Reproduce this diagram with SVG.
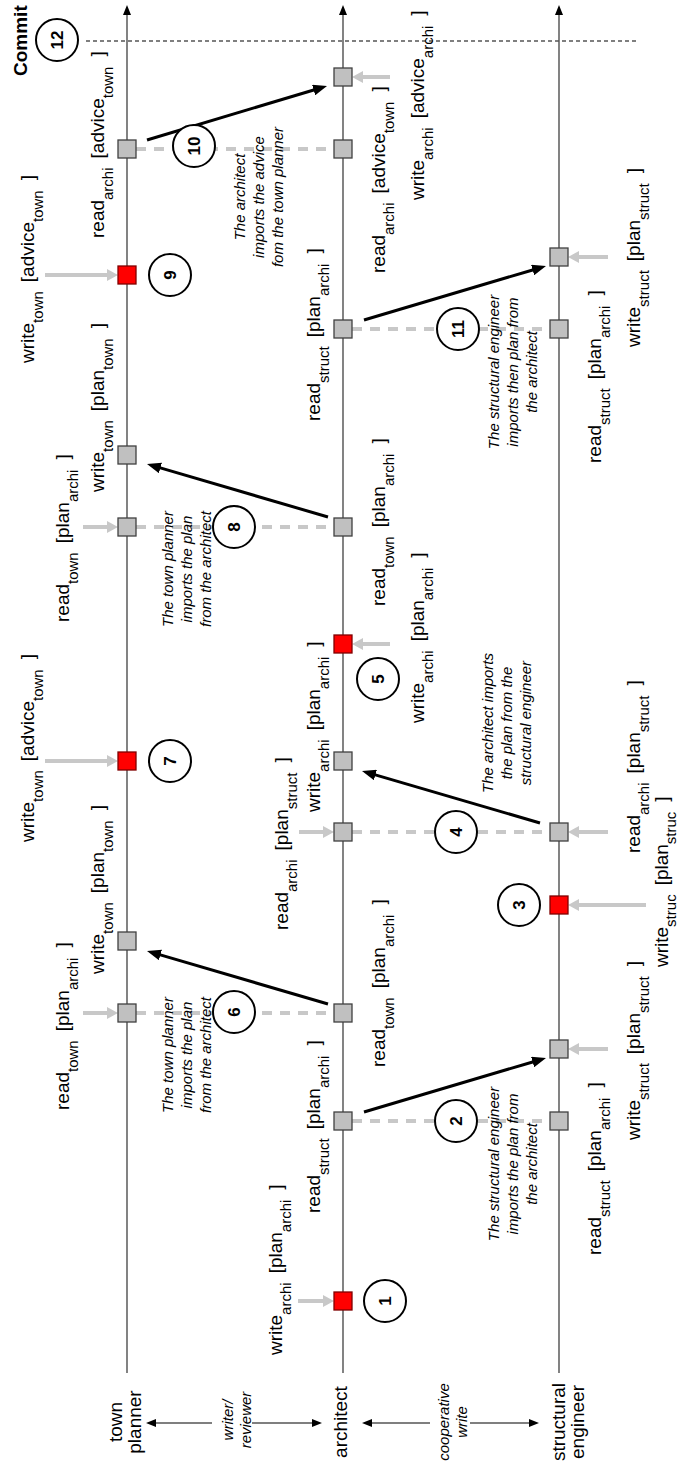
<svg xmlns="http://www.w3.org/2000/svg" width="681" height="1464" viewBox="0 0 681 1464">
<style>
.lane{stroke:#404040;stroke-width:1.3;fill:none}
.sq{fill:#c0c0c0;stroke:#404040;stroke-width:1.3}
.sqr{fill:#ff0000;stroke:#800000;stroke-width:1.3}
.in{stroke:#c8c8c8;stroke-width:4;fill:none}
.dash{stroke:#c8c8c8;stroke-width:4;stroke-dasharray:10 8;fill:none}
.imp{stroke:#000;stroke-width:3;fill:none}
.role{stroke:#000;stroke-width:1.2;fill:none}
.commit{stroke:#555;stroke-width:1.3;stroke-dasharray:4 3;fill:none}
.num circle{fill:#fff;stroke:#000;stroke-width:2}
text{font-family:"Liberation Sans",Arial,sans-serif;fill:#000}
.lb{font-size:19px}
.sb{font-size:15px}
.note{font-style:italic;font-size:15px;text-anchor:middle}
.lane-lb{font-size:19px;text-anchor:middle}
.n{font-weight:bold;font-size:17px;text-anchor:middle}
.cm{font-weight:bold;font-size:19px}
</style>
<defs>
<marker id="ah" markerUnits="userSpaceOnUse" markerWidth="14" markerHeight="11" refX="1" refY="5.5" orient="auto"><path d="M0,0 L14,5.5 L0,11 z" fill="#000"/></marker>
<marker id="ag" markerUnits="userSpaceOnUse" markerWidth="11" markerHeight="12" refX="1" refY="6" orient="auto"><path d="M0,0 L11,6 L0,12 z" fill="#c8c8c8"/></marker>
<marker id="as" markerUnits="userSpaceOnUse" markerWidth="10" markerHeight="8" refX="1" refY="4" orient="auto"><path d="M0,0 L10,4 L0,8 z" fill="#000"/></marker>
</defs>
<g transform="translate(0,1464) rotate(-90)">
  <g id="lanes">
    <g id="lane-town"><line class="lane" x1="91" y1="127" x2="1450" y2="127" marker-end="url(#as)"/>
      <text class="lane-lb" x="42" y="122">town</text><text class="lane-lb" x="42" y="141">planner</text></g>
    <g id="lane-architect"><line class="lane" x1="91" y1="343" x2="1450" y2="343" marker-end="url(#as)"/>
      <text class="lane-lb" x="42" y="347">architect</text></g>
    <g id="lane-struct"><line class="lane" x1="91" y1="559" x2="1450" y2="559" marker-end="url(#as)"/>
      <text class="lane-lb" x="42" y="565">structural</text><text class="lane-lb" x="42" y="584">engineer</text></g>
  </g>
  <g id="roles">
    <line class="role" x1="41" y1="212" x2="41" y2="155" marker-end="url(#as)"/>
    <line class="role" x1="41" y1="252" x2="41" y2="313" marker-end="url(#as)"/>
    <text class="note" x="44" y="233">writer/</text><text class="note" x="44" y="251">reviewer</text>
    <line class="role" x1="41" y1="430" x2="41" y2="371" marker-end="url(#as)"/>
    <line class="role" x1="41" y1="470" x2="41" y2="530" marker-end="url(#as)"/>
    <text class="note" x="42" y="449">cooperative</text><text class="note" x="42" y="467">write</text>
  </g>
  <g id="commit">
    <line class="commit" x1="1423" y1="86" x2="1423" y2="636"/>
    <text class="cm" x="1388" y="27">Commit</text>
  </g>
  <g id="connectors">
    <line class="dash" x1="1315" y1="136" x2="1315" y2="334"/>
    <line class="dash" x1="937" y1="136" x2="937" y2="334"/>
    <line class="dash" x1="451" y1="136" x2="451" y2="334"/>
    <line class="dash" x1="1135" y1="352" x2="1135" y2="550"/>
    <line class="dash" x1="632" y1="352" x2="632" y2="550"/>
    <line class="dash" x1="343" y1="352" x2="343" y2="550"/>
    <line class="imp" x1="1324" y1="147" x2="1374.27" y2="314.55" marker-end="url(#ah)"/>
    <line class="imp" x1="1144" y1="364" x2="1194.3" y2="533.54" marker-end="url(#ah)"/>
    <line class="imp" x1="947" y1="328" x2="996.35" y2="159.48" marker-end="url(#ah)"/>
    <line class="imp" x1="641" y1="540" x2="689.35" y2="374.48" marker-end="url(#ah)"/>
    <line class="imp" x1="460" y1="328" x2="509.35" y2="159.48" marker-end="url(#ah)"/>
    <line class="imp" x1="352" y1="364" x2="402.3" y2="533.54" marker-end="url(#ah)"/>
    <line class="in" x1="1189" y1="45" x2="1189" y2="108" marker-end="url(#ag)"/>
    <line class="in" x1="703" y1="45" x2="703" y2="108" marker-end="url(#ag)"/>
    <line class="in" x1="937" y1="83" x2="937" y2="108" marker-end="url(#ag)"/>
    <line class="in" x1="451" y1="83" x2="451" y2="108" marker-end="url(#ag)"/>
    <line class="in" x1="163" y1="298" x2="163" y2="324" marker-end="url(#ag)"/>
    <line class="in" x1="632" y1="299" x2="632" y2="324" marker-end="url(#ag)"/>
    <line class="in" x1="820" y1="390" x2="820" y2="362" marker-end="url(#ag)"/>
    <line class="in" x1="1387" y1="390" x2="1387" y2="362" marker-end="url(#ag)"/>
    <line class="in" x1="1207" y1="608" x2="1207" y2="578" marker-end="url(#ag)"/>
    <line class="in" x1="632" y1="608" x2="632" y2="578" marker-end="url(#ag)"/>
    <line class="in" x1="559" y1="646" x2="559" y2="578" marker-end="url(#ag)"/>
    <line class="in" x1="415" y1="608" x2="415" y2="578" marker-end="url(#ag)"/>
  </g>
  <g id="town-events">
    <g id="t1"><rect class="sq" x="442" y="118" width="18" height="18"/><text class="lb" x="354" y="69">read<tspan class="sb" dy="9">town</tspan><tspan dx="9" dy="-9">[plan</tspan><tspan class="sb" dy="9">archi</tspan><tspan dx="10" dy="-9">]</tspan></text></g>
    <g id="t2"><rect class="sq" x="514" y="118" width="18" height="18"/><text class="lb" x="490" y="104">write<tspan class="sb" dy="9">town</tspan><tspan dx="9" dy="-9">[plan</tspan><tspan class="sb" dy="9">town</tspan><tspan dx="10" dy="-9">]</tspan></text></g>
    <g id="t3"><rect class="sqr" x="694" y="118" width="18" height="18"/><text class="lb" x="622" y="34">write<tspan class="sb" dy="9">town</tspan><tspan dx="9" dy="-9">[advice</tspan><tspan class="sb" dy="9">town</tspan><tspan dx="10" dy="-9">]</tspan></text></g>
    <g id="t4"><rect class="sq" x="928" y="118" width="18" height="18"/><text class="lb" x="842" y="69">read<tspan class="sb" dy="9">town</tspan><tspan dx="9" dy="-9">[plan</tspan><tspan class="sb" dy="9">archi</tspan><tspan dx="10" dy="-9">]</tspan></text></g>
    <g id="t5"><rect class="sq" x="1000" y="118" width="18" height="18"/><text class="lb" x="972" y="104">write<tspan class="sb" dy="9">town</tspan><tspan dx="9" dy="-9">[plan</tspan><tspan class="sb" dy="9">town</tspan><tspan dx="10" dy="-9">]</tspan></text></g>
    <g id="t6"><rect class="sqr" x="1180" y="118" width="18" height="18"/><text class="lb" x="1101" y="34">write<tspan class="sb" dy="9">town</tspan><tspan dx="9" dy="-9">[advice</tspan><tspan class="sb" dy="9">town</tspan><tspan dx="10" dy="-9">]</tspan></text></g>
    <g id="t7"><rect class="sq" x="1306" y="118" width="18" height="18"/><text class="lb" x="1226" y="104">read<tspan class="sb" dy="9">archi</tspan><tspan dx="9" dy="-9">[advice</tspan><tspan class="sb" dy="9">town</tspan><tspan dx="10" dy="-9">]</tspan></text></g>
  </g>
  <g id="architect-events">
    <g id="a1"><rect class="sqr" x="154" y="334" width="18" height="18"/><text class="lb" x="109" y="282">write<tspan class="sb" dy="9">archi</tspan><tspan dx="9" dy="-9">[plan</tspan><tspan class="sb" dy="9">archi</tspan><tspan dx="10" dy="-9">]</tspan></text></g>
    <g id="a2"><rect class="sq" x="334" y="334" width="18" height="18"/><text class="lb" x="251" y="320">read<tspan class="sb" dy="9">struct</tspan><tspan dx="9" dy="-9">[plan</tspan><tspan class="sb" dy="9">archi</tspan><tspan dx="10" dy="-9">]</tspan></text></g>
    <g id="a3"><rect class="sq" x="442" y="334" width="18" height="18"/><text class="lb" x="397" y="385">read<tspan class="sb" dy="9">town</tspan><tspan dx="9" dy="-9">[plan</tspan><tspan class="sb" dy="9">archi</tspan><tspan dx="10" dy="-9">]</tspan></text></g>
    <g id="a4"><rect class="sq" x="623" y="334" width="18" height="18"/><text class="lb" x="534" y="288">read<tspan class="sb" dy="9">archi</tspan><tspan dx="9" dy="-9">[plan</tspan><tspan class="sb" dy="9">struct</tspan><tspan dx="10" dy="-9">]</tspan></text></g>
    <g id="a5"><rect class="sq" x="694" y="334" width="18" height="18"/><text class="lb" x="652" y="320">write<tspan class="sb" dy="9">archi</tspan><tspan dx="9" dy="-9">[plan</tspan><tspan class="sb" dy="9">archi</tspan><tspan dx="10" dy="-9">]</tspan></text></g>
    <g id="a6"><rect class="sqr" x="811" y="334" width="18" height="18"/><text class="lb" x="741" y="424">write<tspan class="sb" dy="9">archi</tspan><tspan dx="9" dy="-9">[plan</tspan><tspan class="sb" dy="9">archi</tspan><tspan dx="10" dy="-9">]</tspan></text></g>
    <g id="a7"><rect class="sq" x="928" y="334" width="18" height="18"/><text class="lb" x="858" y="385">read<tspan class="sb" dy="9">town</tspan><tspan dx="9" dy="-9">[plan</tspan><tspan class="sb" dy="9">archi</tspan><tspan dx="10" dy="-9">]</tspan></text></g>
    <g id="a8"><rect class="sq" x="1126" y="334" width="18" height="18"/><text class="lb" x="1043" y="320">read<tspan class="sb" dy="9">struct</tspan><tspan dx="9" dy="-9">[plan</tspan><tspan class="sb" dy="9">archi</tspan><tspan dx="10" dy="-9">]</tspan></text></g>
    <g id="a9"><rect class="sq" x="1306" y="334" width="18" height="18"/><text class="lb" x="1191" y="385">read<tspan class="sb" dy="9">archi</tspan><tspan dx="9" dy="-9">[advice</tspan><tspan class="sb" dy="9">town</tspan><tspan dx="10" dy="-9">]</tspan></text></g>
    <g id="a10"><rect class="sq" x="1378" y="334" width="18" height="18"/><text class="lb" x="1264" y="424">write<tspan class="sb" dy="9">archi</tspan><tspan dx="9" dy="-9">[advice</tspan><tspan class="sb" dy="9">archi</tspan><tspan dx="10" dy="-9">]</tspan></text></g>
  </g>
  <g id="struct-events">
    <g id="s1"><rect class="sq" x="334" y="550" width="18" height="18"/><text class="lb" x="209" y="601">read<tspan class="sb" dy="9">struct</tspan><tspan dx="9" dy="-9">[plan</tspan><tspan class="sb" dy="9">archi</tspan><tspan dx="10" dy="-9">]</tspan></text></g>
    <g id="s2"><rect class="sq" x="406" y="550" width="18" height="18"/><text class="lb" x="324" y="640">write<tspan class="sb" dy="9">struct</tspan><tspan dx="9" dy="-9">[plan</tspan><tspan class="sb" dy="9">struct</tspan><tspan dx="10" dy="-9">]</tspan></text></g>
    <g id="s3"><rect class="sqr" x="550" y="550" width="18" height="18"/><text class="lb" x="497" y="668">write<tspan class="sb" dy="8">struc</tspan><tspan dx="9" dy="-8">[plan</tspan><tspan class="sb" dy="8">struc</tspan><tspan dx="10" dy="-8">]</tspan></text></g>
    <g id="s4"><rect class="sq" x="623" y="550" width="18" height="18"/><text class="lb" x="611" y="640">read<tspan class="sb" dy="9">archi</tspan><tspan dx="9" dy="-9">[plan</tspan><tspan class="sb" dy="9">struct</tspan><tspan dx="10" dy="-9">]</tspan></text></g>
    <g id="s5"><rect class="sq" x="1126" y="550" width="18" height="18"/><text class="lb" x="1001" y="601">read<tspan class="sb" dy="9">struct</tspan><tspan dx="9" dy="-9">[plan</tspan><tspan class="sb" dy="9">archi</tspan><tspan dx="10" dy="-9">]</tspan></text></g>
    <g id="s6"><rect class="sq" x="1198" y="550" width="18" height="18"/><text class="lb" x="1117" y="640">write<tspan class="sb" dy="9">struct</tspan><tspan dx="9" dy="-9">[plan</tspan><tspan class="sb" dy="9">struct</tspan><tspan dx="10" dy="-9">]</tspan></text></g>
  </g>
  <g id="notes">
    <g id="note2"><text class="note" x="300" y="499">The structural engineer</text><text class="note" x="300" y="518">imports the plan from</text><text class="note" x="300" y="537">the architect</text></g>
    <g id="note11"><text class="note" x="1092" y="499">The structural engineer</text><text class="note" x="1092" y="518">imports then plan from</text><text class="note" x="1092" y="537">the architect</text></g>
    <g id="note6"><text class="note" x="409" y="173">The town planner</text><text class="note" x="409" y="192">imports the plan</text><text class="note" x="409" y="211">from the architect</text></g>
    <g id="note8"><text class="note" x="895" y="173">The town planner</text><text class="note" x="895" y="192">imports the plan</text><text class="note" x="895" y="211">from the architect</text></g>
    <g id="note4"><text class="note" x="741" y="493">The architect imports</text><text class="note" x="741" y="512">the plan from the</text><text class="note" x="741" y="531">structural engineer</text></g>
    <g id="note10"><text class="note" x="1267" y="245">The architect</text><text class="note" x="1267" y="264">imports the advice</text><text class="note" x="1267" y="283">fom the town planner</text></g>
  </g>
  <g id="steps">
    <g id="step1" class="num"><circle cx="163" cy="385" r="21"/><text class="n" x="163" y="391">1</text></g>
    <g id="step2" class="num"><circle cx="343" cy="456" r="21"/><text class="n" x="343" y="462">2</text></g>
    <g id="step3" class="num"><circle cx="559" cy="519" r="21"/><text class="n" x="559" y="525">3</text></g>
    <g id="step4" class="num"><circle cx="632" cy="456" r="21"/><text class="n" x="632" y="462">4</text></g>
    <g id="step5" class="num"><circle cx="785" cy="378" r="21"/><text class="n" x="785" y="384">5</text></g>
    <g id="step6" class="num"><circle cx="452" cy="234" r="21"/><text class="n" x="452" y="240">6</text></g>
    <g id="step7" class="num"><circle cx="703" cy="170" r="21"/><text class="n" x="703" y="176">7</text></g>
    <g id="step8" class="num"><circle cx="937" cy="234" r="21"/><text class="n" x="937" y="240">8</text></g>
    <g id="step9" class="num"><circle cx="1189" cy="170" r="21"/><text class="n" x="1189" y="176">9</text></g>
    <g id="step10" class="num"><circle cx="1318" cy="194" r="21"/><text class="n" x="1318" y="200">10</text></g>
    <g id="step11" class="num"><circle cx="1135" cy="458" r="21"/><text class="n" x="1135" y="464">11</text></g>
    <g id="step12" class="num"><circle cx="1424" cy="57" r="21"/><text class="n" x="1424" y="63">12</text></g>
  </g>
</g>
</svg>
